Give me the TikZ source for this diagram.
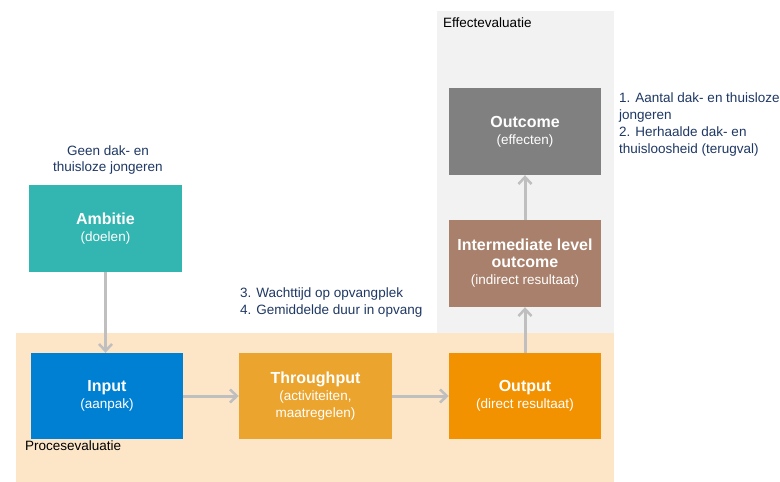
\documentclass[tikz,border=0pt]{standalone}
\usepackage{fontspec}
\setmainfont{Liberation Sans}
\usetikzlibrary{arrows.meta}
\definecolor{navy}{HTML}{1F3864}
\definecolor{arrowgray}{HTML}{BFBFBF}
\definecolor{effbg}{HTML}{F2F2F2}
\definecolor{procbg}{HTML}{FDE6C8}
\definecolor{cAmb}{HTML}{33B5B1}
\definecolor{cInp}{HTML}{0080D3}
\definecolor{cThr}{HTML}{EBA52F}
\definecolor{cOut}{HTML}{F39200}
\definecolor{cInt}{HTML}{A8806B}
\definecolor{cOutc}{HTML}{808080}
\tikzset{
  box/.style={minimum width=153pt, minimum height=87pt, inner sep=0pt, align=center,
    text=white, font=\fontsize{13.5}{17}\selectfont},
  conn/.style={draw=arrowgray, line width=3pt, -{Straight Barb[length=7pt,width=13pt,line width=2.5pt]}},
  note/.style={text=navy, font=\fontsize{13.5}{16.7}\selectfont, inner sep=0pt},
  region/.style={text=black, font=\fontsize{13.5}{16}\selectfont, inner sep=0pt, anchor=west}
}
\newcommand{\ttl}[1]{{\fontsize{16}{18}\selectfont\bfseries #1}}
\begin{document}
\begin{tikzpicture}[x=1pt,y=-1pt]
\useasboundingbox (0,0) rectangle (780,482);
\fill[white] (0,0) rectangle (780,482);
% regions
\fill[effbg] (437,11) rectangle (614,333);
\fill[procbg] (16,333) rectangle (614,482);
\node[region] (effl) at (443,23) {Effectevaluatie};
\node[region] (procl) at (25,446) {Procesevaluatie};
% boxes
\node[box, fill=cAmb, minimum width=153pt] (amb) at (105.5,228.5) {\ttl{Ambitie}\\(doelen)};
\node[box, fill=cInp, minimum width=152pt, minimum height=86pt] (inp) at (107,396) {\ttl{Input}\\(aanpak)};
\node[box, fill=cThr, minimum width=153pt, minimum height=86pt] (thr) at (315.5,396) {\ttl{Throughput}\\(activiteiten,\\maatregelen)};
\node[box, fill=cOut, minimum width=152pt, minimum height=86pt] (out) at (525,396) {\ttl{Output}\\(direct resultaat)};
\node[box, fill=cInt, minimum width=152pt, minimum height=87pt] (int) at (525,263.5) {\ttl{Intermediate level}\\\ttl{outcome}\\(indirect resultaat)};
\node[box, fill=cOutc, minimum width=152pt, minimum height=87pt] (outc) at (525,131.5) {\ttl{Outcome}\\(effecten)};
% notes
\node[note, align=center] (geen) at (108,160) {Geen dak- en\\thuisloze jongeren};
\node[note, align=left, anchor=north west] (wacht) at (240,288) {3. Wachttijd op opvangplek\\4. Gemiddelde duur in opvang};
\node[note, align=left, anchor=north west] (aant) at (619,93) {1. Aantal dak- en thuisloze\\jongeren\\2. Herhaalde dak- en\\thuisloosheid (terugval)};
% connectors
\draw[conn] (amb.south) -- (amb.south |- inp.north);
\draw[conn] (inp.east) -- (thr.west);
\draw[conn] (thr.east) -- (out.west);
\draw[conn] (out.north) -- (int.south);
\draw[conn] (int.north) -- (outc.south);
\end{tikzpicture}
\end{document}
